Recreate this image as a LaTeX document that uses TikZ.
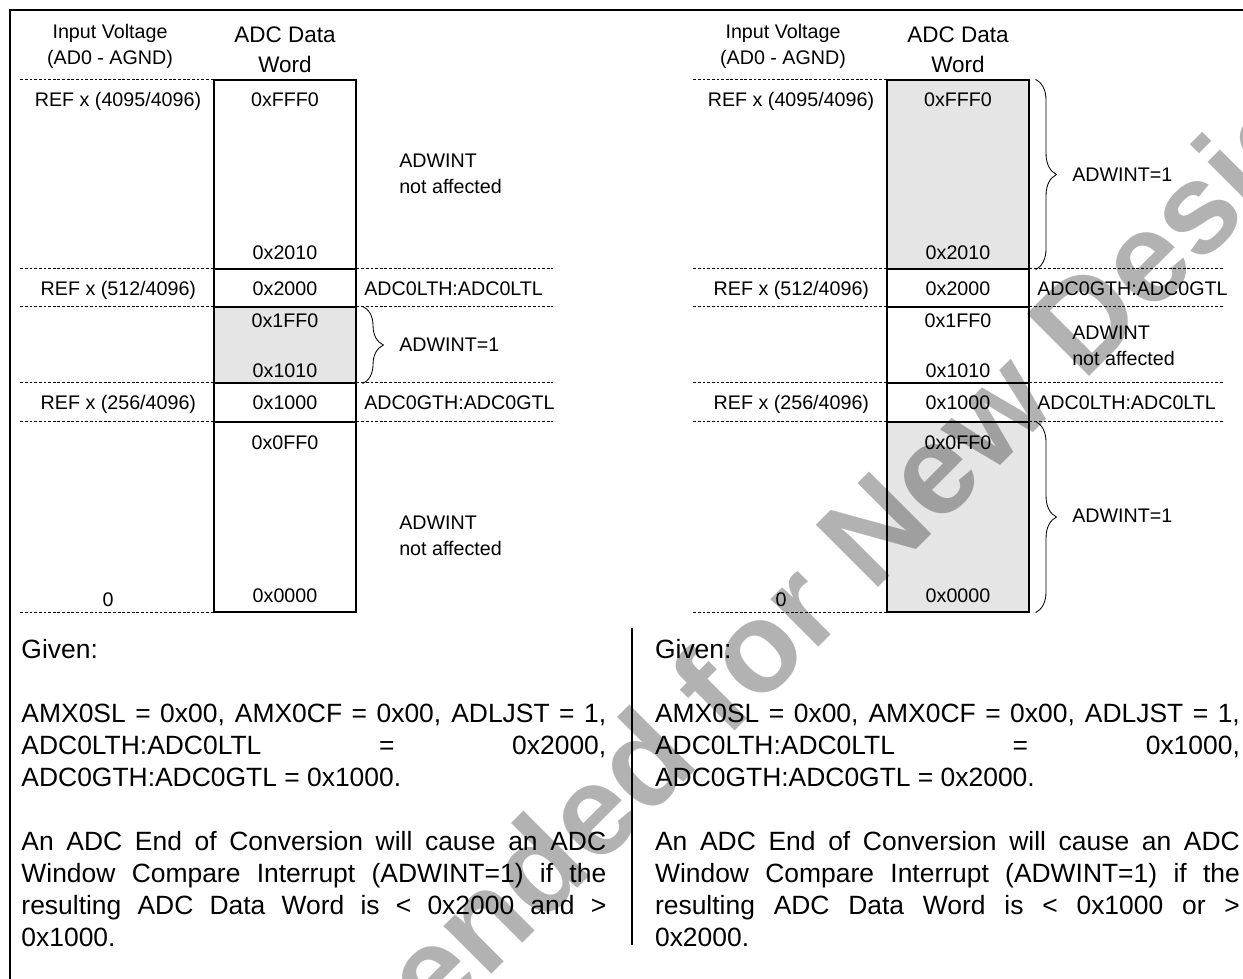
\documentclass[tikz,border=0pt]{standalone}
\usepackage{fontspec}
\setmainfont{Liberation Sans}
\usepackage{tikz}
\usetikzlibrary{calc, decorations.pathreplacing}
\newcommand{\jline}[1]{\makebox[14.62cm][s]{#1}}
\tikzset{cell/.style={rectangle, draw, line width=0.9pt,
minimum width=3.55cm, inner sep=0pt}}
\tikzset{shade/.style={fill=black!10}}
\tikzset{sepline/.style={dash pattern=on 2pt off 1.3pt, line width=0.6pt}}
\tikzset{tbl/.style={font=\fontsize{14}{18.2}\selectfont, inner sep=0pt}}
\tikzset{hdr/.style={font=\fontsize{16}{21.3}\selectfont, inner sep=0pt}}
\tikzset{para/.style={font=\fontsize{18.8}{22.76}\selectfont,
inner sep=0pt, align=left, anchor=base west}}
\tikzset{brc/.style={decorate, decoration={brace, amplitude=0.52cm}, line width=0.6pt}}
\tikzset{wmark/.style={font=\fontsize{91}{100}\selectfont\bfseries, text=black!30,
rotate=45, anchor=base west, inner sep=0pt}}

\begin{document}
\begin{tikzpicture}[
]
\useasboundingbox (0,0) rectangle (31.075,-24.475);

% left: window inside
\node [cell, minimum height=4.725cm] (c1) at (7.125,-4.3625) {};
\node [cell, minimum height=0.95cm] (c2) at (7.125,-7.2) {};
\node [cell, shade, minimum height=1.9cm] (c3) at (7.125,-8.625) {};
\node [cell, minimum height=0.975cm] (c4) at (7.125,-10.0625) {};
\node [cell, minimum height=4.75cm] (c5) at (7.125,-12.925) {};

\draw [sepline] (c1.north west) -- ++(-4.85,0);
\draw [sepline] (c2.north west) -- ++(-4.85,0);
\draw [sepline] (c3.north west) -- ++(-4.85,0);
\draw [sepline] (c4.north west) -- ++(-4.85,0);
\draw [sepline] (c5.north west) -- ++(-4.85,0);
\draw [sepline] (c5.south west) -- ++(-4.85,0);
\draw [sepline] (c2.north east) -- ++(4.9,0);
\draw [sepline] (c3.north east) -- ++(4.9,0);
\draw [sepline] (c4.north east) -- ++(4.9,0);
\draw [sepline] (c5.north east) -- ++(4.9,0);

\node [tbl, anchor=base, align=center] (vin) at (2.75,-1.6) {Input Voltage\\(AD0 - AGND)};
\node [hdr, anchor=base, align=center] (word) at (7.125,-1.8175) {ADC Data\\Word};

\node [tbl, anchor=base] (v1) at (2.95,-2.65) {REF x (4095/4096)};
\node [tbl, anchor=base] (v2) at (2.96,-7.375) {REF x (512/4096)};
\node [tbl, anchor=base] (v3) at (2.96,-10.225) {REF x (256/4096)};
\node [tbl, anchor=base] (v4) at (2.7,-15.15) {0};

\node [tbl, anchor=base] (w1) at (7.125,-2.65) {0xFFF0};
\node [tbl, anchor=base] (w2) at (7.125,-6.475) {0x2010};
\node [tbl, anchor=base] (w3) at (7.125,-7.375) {0x2000};
\node [tbl, anchor=base] (w4) at (7.125,-8.175) {0x1FF0};
\node [tbl, anchor=base] (w5) at (7.125,-9.425) {0x1010};
\node [tbl, anchor=base] (w6) at (7.125,-10.225) {0x1000};
\node [tbl, anchor=base] (w7) at (7.125,-11.225) {0x0FF0};
\node [tbl, anchor=base] (w8) at (7.125,-15.05) {0x0000};

\node [tbl, anchor=base west] (t1) at (9.1,-7.375) {ADC0LTH:ADC0LTL};
\node [tbl, anchor=base west] (t2) at (9.1,-10.225) {ADC0GTH:ADC0GTL};

\node [tbl, anchor=base west, align=left] (a1) at (9.975,-4.8325) {ADWINT\\not affected};
\node [tbl, anchor=base west] (a2) at (9.975,-8.79) {ADWINT=1};
\node [tbl, anchor=base west, align=left] (a3) at (9.975,-13.875) {ADWINT\\not affected};

\draw [brc] ($(c3.north east)+(0.15,0)$) -- ($(c3.south east)+(0.15,0)$);

% right: window outside
\begin{scope}[xshift = 16.825cm]
    \node [cell, shade, minimum height=4.725cm] (d1) at (7.125,-4.3625) {};
    \node [cell, minimum height=0.95cm] (d2) at (7.125,-7.2) {};
    \node [cell, minimum height=1.9cm] (d3) at (7.125,-8.625) {};
    \node [cell, minimum height=0.975cm] (d4) at (7.125,-10.0625) {};
    \node [cell, shade, minimum height=4.75cm] (d5) at (7.125,-12.925) {};

    \draw [sepline] (d1.north west) -- ++(-4.85,0);
    \draw [sepline] (d2.north west) -- ++(-4.85,0);
    \draw [sepline] (d3.north west) -- ++(-4.85,0);
    \draw [sepline] (d4.north west) -- ++(-4.85,0);
    \draw [sepline] (d5.north west) -- ++(-4.85,0);
    \draw [sepline] (d5.south west) -- ++(-4.85,0);
    \draw [sepline] (d2.north east) -- ++(4.85,0);
    \draw [sepline] (d3.north east) -- ++(4.85,0);
    \draw [sepline] (d4.north east) -- ++(4.85,0);
    \draw [sepline] (d5.north east) -- ++(4.85,0);

    \node [tbl, anchor=base, align=center] (vinr) at (2.75,-1.6) {Input Voltage\\(AD0 - AGND)};
    \node [hdr, anchor=base, align=center] (wordr) at (7.125,-1.8175) {ADC Data\\Word};

    \node [tbl, anchor=base] (u1) at (2.95,-2.65) {REF x (4095/4096)};
    \node [tbl, anchor=base] (u2) at (2.96,-7.375) {REF x (512/4096)};
    \node [tbl, anchor=base] (u3) at (2.96,-10.225) {REF x (256/4096)};
    \node [tbl, anchor=base] (u4) at (2.7,-15.15) {0};

    \node [tbl, anchor=base] (x1) at (7.125,-2.65) {0xFFF0};
    \node [tbl, anchor=base] (x2) at (7.125,-6.475) {0x2010};
    \node [tbl, anchor=base] (x3) at (7.125,-7.375) {0x2000};
    \node [tbl, anchor=base] (x4) at (7.125,-8.175) {0x1FF0};
    \node [tbl, anchor=base] (x5) at (7.125,-9.425) {0x1010};
    \node [tbl, anchor=base] (x6) at (7.125,-10.225) {0x1000};
    \node [tbl, anchor=base] (x7) at (7.125,-11.225) {0x0FF0};
    \node [tbl, anchor=base] (x8) at (7.125,-15.05) {0x0000};

    \node [tbl, anchor=base west] (s1) at (9.1,-7.375) {ADC0GTH:ADC0GTL};
    \node [tbl, anchor=base west] (s2) at (9.1,-10.225) {ADC0LTH:ADC0LTL};

    \node [tbl, anchor=base west] (b1) at (9.975,-4.54) {ADWINT=1};
    \node [tbl, anchor=base west, align=left] (b2) at (9.975,-9.125) {ADWINT\\not affected};
    \node [tbl, anchor=base west] (b3) at (9.975,-13.07) {ADWINT=1};

    \draw [brc] ($(d1.north east)+(0.15,0)$) -- ($(d1.south east)+(0.15,0)$);
    \draw [brc] ($(d5.north east)+(0.15,0)$) -- ($(d5.south east)+(0.15,0)$);
\end{scope}

% notes
\node [para] (g1) at (0.53,-16.45) {Given:};
\node [para] (p1) at (0.53,-19.65) {\jline{AMX0SL = 0x00, AMX0CF = 0x00, ADLJST = 1,}\\
\jline{ADC0LTH:ADC0LTL = 0x2000,}\\ ADC0GTH:ADC0GTL = 0x1000.};
\node [para] (q1) at (0.53,-23.65) {\jline{An ADC End of Conversion will cause an ADC}\\
\jline{Window Compare Interrupt (ADWINT=1) if the}\\
\jline{resulting ADC Data Word is < 0x2000 and >}\\ 0x1000.};

\node [para] (g2) at (16.37,-16.45) {Given:};
\node [para] (p2) at (16.37,-19.65) {\jline{AMX0SL = 0x00, AMX0CF = 0x00, ADLJST = 1,}\\
\jline{ADC0LTH:ADC0LTL = 0x1000,}\\ ADC0GTH:ADC0GTL = 0x2000.};
\node [para] (q2) at (16.37,-23.65) {\jline{An ADC End of Conversion will cause an ADC}\\
\jline{Window Compare Interrupt (ADWINT=1) if the}\\
\jline{resulting ADC Data Word is < 0x1000 or >}\\ 0x2000.};

\draw [line width=1.3pt] (15.8,-15.7) -- (15.8,-23.625);
\draw [line width=1.6pt] (0.25,-24.475) -- (0.25,-0.25) -- (31.075,-0.25);

\begin{scope}[blend mode=multiply]
    \clip (0,0) rectangle (31.075,-24.475);
    \node [wmark] (wm) at (-3.065,-39.715) {Not Recommended for New Designs};
\end{scope}

\end{tikzpicture}
\end{document}
